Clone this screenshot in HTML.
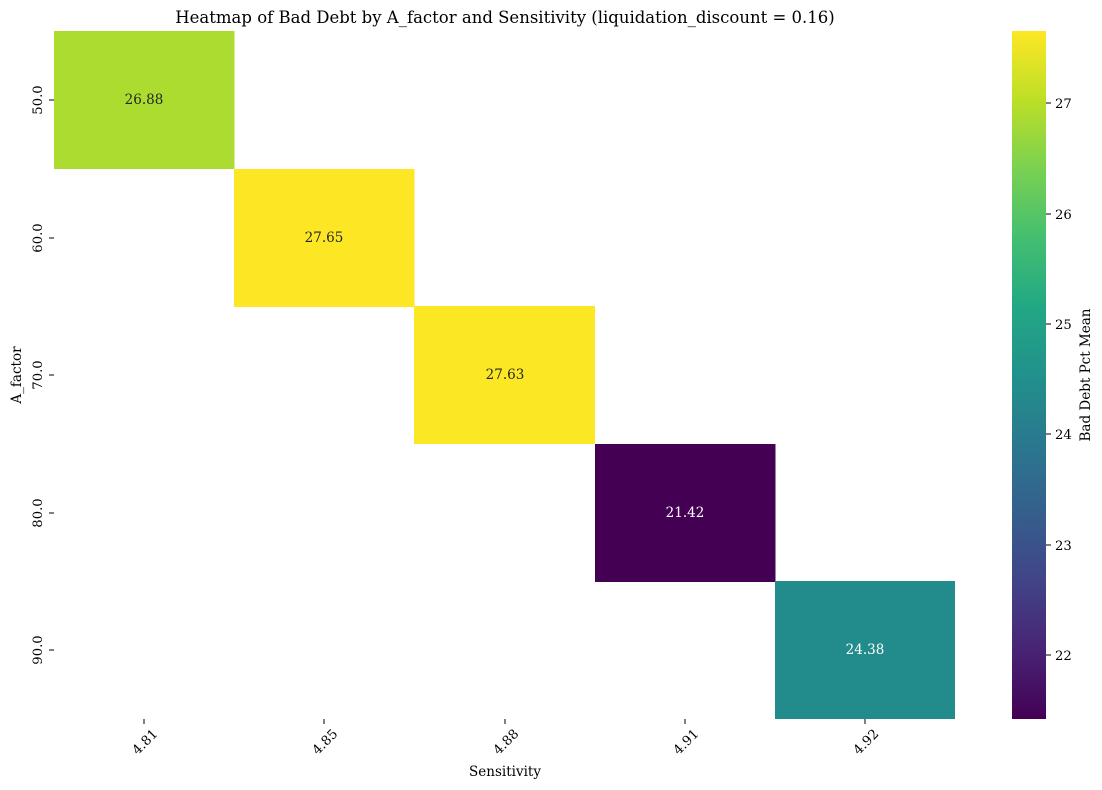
<!DOCTYPE html>
<html><head><meta charset="utf-8"><style>body{margin:0;background:#fff}svg{display:block;font-family:"DejaVu Serif","Liberation Serif",serif}</style></head><body>
<svg width="1102" height="790" xmlns="http://www.w3.org/2000/svg">
<defs><linearGradient id="v" x1="0" y1="1" x2="0" y2="0">
<stop offset="0" stop-color="#440154"/><stop offset="0.1" stop-color="#482475"/><stop offset="0.2" stop-color="#414487"/><stop offset="0.3" stop-color="#355f8d"/><stop offset="0.4" stop-color="#2a788e"/><stop offset="0.5" stop-color="#21918c"/><stop offset="0.6" stop-color="#22a884"/><stop offset="0.7" stop-color="#44bf70"/><stop offset="0.8" stop-color="#7ad151"/><stop offset="0.9" stop-color="#bddf26"/><stop offset="1" stop-color="#fde725"/></linearGradient></defs>
<text x="505" y="23" font-size="16.5" text-anchor="middle">Heatmap of Bad Debt by A_factor and Sensitivity (liquidation_discount = 0.16)</text>
<rect x="54" y="31" width="180.5" height="138" fill="#addc30"/>
<rect x="234" y="169" width="180.5" height="138" fill="#fde725"/>
<rect x="414" y="306" width="181" height="138" fill="#fbe723"/>
<rect x="595" y="444" width="180.5" height="138" fill="#440154"/>
<rect x="775" y="581" width="180" height="138" fill="#228c8d"/>
<g font-size="13.5" text-anchor="middle">
<text x="144" y="104" fill="#262626">26.88</text>
<text x="324" y="242" fill="#262626">27.65</text>
<text x="505" y="379" fill="#262626">27.63</text>
<text x="685" y="517" fill="#fff">21.42</text>
<text x="865" y="654" fill="#fff">24.38</text>
</g>
<g stroke="#000" stroke-width="1">
<line x1="49" x2="54" y1="100" y2="100"/><line x1="49" x2="54" y1="238" y2="238"/><line x1="49" x2="54" y1="375" y2="375"/><line x1="49" x2="54" y1="513" y2="513"/><line x1="49" x2="54" y1="650" y2="650"/>
<line y1="719" y2="724" x1="144" x2="144"/><line y1="719" y2="724" x1="324" x2="324"/><line y1="719" y2="724" x1="505" x2="505"/><line y1="719" y2="724" x1="685" x2="685"/><line y1="719" y2="724" x1="865" x2="865"/>
</g>
<g font-size="13.2" text-anchor="middle">
<text transform="translate(42,100) rotate(-90)">50.0</text>
<text transform="translate(42,238) rotate(-90)">60.0</text>
<text transform="translate(42,375) rotate(-90)">70.0</text>
<text transform="translate(42,513) rotate(-90)">80.0</text>
<text transform="translate(42,650) rotate(-90)">90.0</text>
</g>
<g font-size="13.2" text-anchor="middle">
<text transform="translate(148,745) rotate(-45)">4.81</text>
<text transform="translate(328,745) rotate(-45)">4.85</text>
<text transform="translate(509,745) rotate(-45)">4.88</text>
<text transform="translate(689,745) rotate(-45)">4.91</text>
<text transform="translate(869,745) rotate(-45)">4.92</text>
</g>
<text x="505" y="776" font-size="13.5" text-anchor="middle">Sensitivity</text>
<text transform="translate(21,375) rotate(-90)" font-size="13.5" text-anchor="middle">A_factor</text>
<rect x="1012" y="31" width="34" height="688" fill="url(#v)"/>
<g stroke="#000"><line x1="1046" x2="1051" y1="655" y2="655"/><line x1="1046" x2="1051" y1="545" y2="545"/><line x1="1046" x2="1051" y1="434" y2="434"/><line x1="1046" x2="1051" y1="324" y2="324"/><line x1="1046" x2="1051" y1="214" y2="214"/><line x1="1046" x2="1051" y1="103" y2="103"/></g>
<g font-size="13.2"><text x="1055" y="660">22</text><text x="1055" y="550">23</text><text x="1055" y="439">24</text><text x="1055" y="329">25</text><text x="1055" y="219">26</text><text x="1055" y="108">27</text></g>
<text transform="translate(1090,375) rotate(-90)" font-size="13.5" text-anchor="middle">Bad Debt Pct Mean</text>
</svg>
</body></html>
